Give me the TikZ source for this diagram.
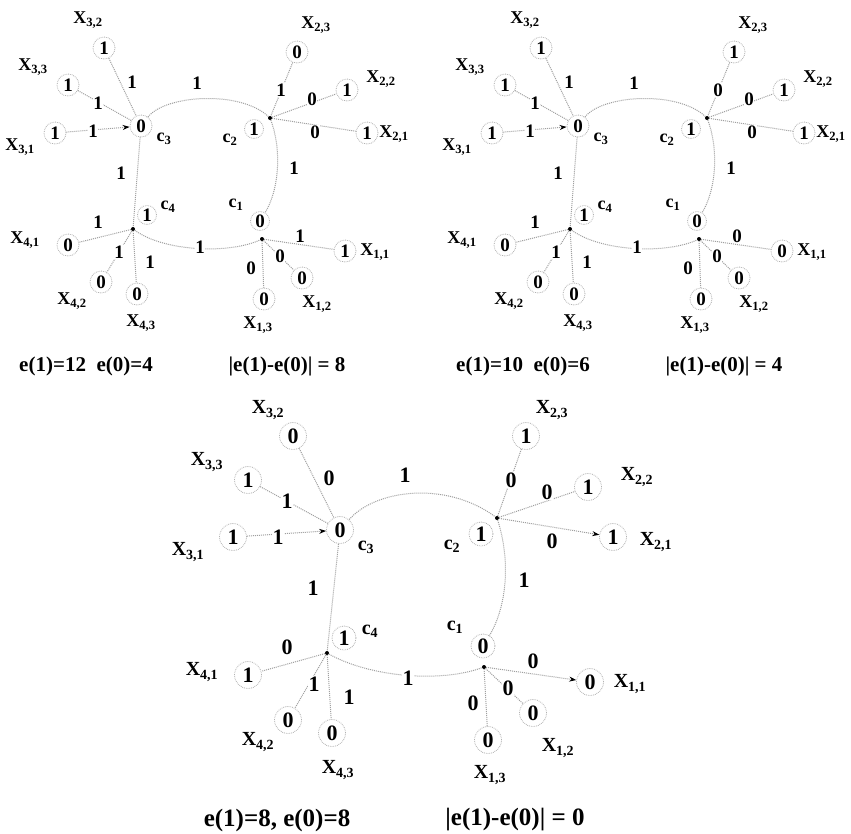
\documentclass[tikz,border=0pt]{standalone}
\usepackage{fontspec}
\setmainfont{Liberation Serif}
\usetikzlibrary{arrows.meta}
\newcommand\smallgraph[7]{%
  % centre nodes
  \node[sval] (#1c3) at (141,126) {0};
  \node[sxl] (#1c3l) at (164,139) {c\textsubscript{3}};
  \node[jn] (#1j4) at (133,229) {};
  \node[sval,minimum size=19pt] (#1c4) at (147,215) {1};
  \node[sxl] (#1c4l) at (168,207) {c\textsubscript{4}};
  \node[jn] (#1j2) at (270,118) {};
  \node[sval,minimum size=19pt] (#1c2) at (254,129) {1};
  \node[sxl] (#1c2l) at (230,140) {c\textsubscript{2}};
  \node[sval,minimum size=19pt] (#1c1) at (260,221) {0};
  \node[jn] (#1j1) at (262,239) {};
  \node[sxl] (#1c1l) at (236,205) {c\textsubscript{1}};
  % leaves
  \node[sval] (#1l32) at (104,48) {1};
  \node[sval] (#1l33) at (68,85) {1};
  \node[sval] (#1l31) at (55,133) {1};
  \node[sval] (#1l41) at (68,245) {0};
  \node[sval] (#1l42) at (101,282) {0};
  \node[sval] (#1l43) at (137,294) {0};
  \node[sval] (#1l23) at (297,52) {#2};
  \node[sval] (#1l22) at (347,90) {1};
  \node[sval] (#1l21) at (367,133) {1};
  \node[sval] (#1l11) at (345,251) {#4};
  \node[sval] (#1l12) at (302,278) {0};
  \node[sval] (#1l13) at (264,299) {0};
  % leaf names
  \node[sxl] (#1x32) at (88,20) {X\textsubscript{3,2}};
  \node[sxl] (#1x33) at (33,67) {X\textsubscript{3,3}};
  \node[sxl] (#1x31) at (20,147) {X\textsubscript{3,1}};
  \node[sxl] (#1x41) at (25,240) {X\textsubscript{4,1}};
  \node[sxl] (#1x42) at (72,301) {X\textsubscript{4,2}};
  \node[sxl] (#1x43) at (141,323) {X\textsubscript{4,3}};
  \node[sxl] (#1x23) at (316,25) {X\textsubscript{2,3}};
  \node[sxl] (#1x22) at (381,79) {X\textsubscript{2,2}};
  \node[sxl] (#1x21) at (394,134) {X\textsubscript{2,1}};
  \node[sxl] (#1x11) at (375,252) {X\textsubscript{1,1}};
  \node[sxl] (#1x12) at (317,304) {X\textsubscript{1,2}};
  \node[sxl] (#1x13) at (258,325) {X\textsubscript{1,3}};
  % connectors
  \draw[lnk] (#1l32) -- (#1c3);
  \draw[lnk] (#1l33) -- (#1c3);
  \draw[arr] (#1l31) -- (#1c3);
  \draw[lnk] (#1c3) -- (#1j4);
  \draw[lnk] (#1j4) -- (#1l41);
  \draw[lnk] (#1j4) -- (#1l42);
  \draw[lnk] (#1j4) -- (#1l43);
  \draw[lnk] (#1c3) .. controls (165,95) and (240,90) .. (#1j2);
  \draw[lnk] (#1j4) .. controls (165,252) and (230,254) .. (#1j1);
  \draw[lnk] (#1l23) -- (#1j2);
  \draw[lnk] (#1j2) -- (#1l22);
  \draw[lnk] (#1j2) -- (#1l21);
  \draw[lnk] (#1j2) .. controls (282,150) and (279,190) .. (#1c1);
  \draw[lnk] (#1j1) -- (#1l11);
  \draw[lnk] (#1j1) -- (#1l12);
  \draw[lnk] (#1j1) -- (#1l13);
  % connector labels
  \node[selab] (#1e32) at (132,82) {1};
  \node[selab] (#1e33) at (98,103) {1};
  \node[selab] (#1e31) at (93,131) {1};
  \node[selab] (#1ec32) at (197,83) {1};
  \node[selab] (#1e34) at (121,173) {1};
  \node[selab] (#1e41) at (98,222) {1};
  \node[selab] (#1e42) at (119,252) {1};
  \node[selab] (#1e43) at (150,262) {1};
  \node[selab] (#1ec41) at (200,247) {1};
  \node[selab] (#1e23) at (281,90) {#3};
  \node[selab] (#1e22) at (312,99) {0};
  \node[selab] (#1e21) at (315,132) {0};
  \node[selab] (#1ec21) at (294,168) {1};
  \node[selab] (#1e11) at (300,236) {#5};
  \node[selab] (#1e12) at (280,256) {0};
  \node[selab] (#1e13) at (251,268) {0};
  % captions
  \node[scaptxt] (#1capl) at (86,366) {#6};
  \node[scaptxt] (#1capr) at (287,366) {#7};
}
\begin{document}
\begin{tikzpicture}[x=1pt,y=-1pt,
  val/.style={circle,draw=gray!60,densely dotted,line width=0.8pt,minimum size=27pt,inner sep=0pt,font=\bfseries\fontsize{22}{22}\selectfont},
  sval/.style={val,minimum size=22pt,font=\bfseries\fontsize{19}{19}\selectfont},
  elab/.style={font=\bfseries\fontsize{22}{22}\selectfont,inner sep=0.5pt,fill=white},
  selab/.style={elab,font=\bfseries\fontsize{19}{19}\selectfont},
  xl/.style={font=\bfseries\fontsize{20}{20}\selectfont,inner sep=0pt},
  sxl/.style={font=\bfseries\fontsize{18}{18}\selectfont,inner sep=0pt},
  lnk/.style={draw=gray!75,densely dotted,line width=1pt},
  arr/.style={lnk,-{Stealth[length=7pt,width=5pt,black]}},
  jn/.style={circle,fill=black,inner sep=0pt,minimum size=4pt},
  captxt/.style={font=\bfseries\fontsize{25}{25}\selectfont},
  scaptxt/.style={font=\bfseries\fontsize{21}{21}\selectfont}]
\useasboundingbox[fill=white] (0,0) rectangle (851,833);

% ---- top graphs ----
\smallgraph{a}{0}{1}{1}{1}{e(1)=12\ \ e(0)=4}{|e(1)-e(0)| = 8}
\begin{scope}[xshift=437pt]
\smallgraph{b}{1}{0}{0}{0}{e(1)=10\ \ e(0)=6}{|e(1)-e(0)| = 4}
\end{scope}

% ---- bottom graph ----
\node[val] (c3) at (340,530) {0};
\node[xl] (c3l) at (366,547) {c\textsubscript{3}};
\node[jn] (j2) at (497,518) {};
\node[val,minimum size=24pt] (c2) at (481,534) {1};
\node[xl] (c2l) at (452,546) {c\textsubscript{2}};
\node[val,minimum size=24pt] (c1) at (483,646) {0};
\node[jn] (j1) at (484,667) {};
\node[xl] (c1l) at (455,627) {c\textsubscript{1}};
\node[jn] (j4) at (327,653) {};
\node[val,minimum size=24pt] (c4) at (344,638) {1};
\node[xl] (c4l) at (370,631) {c\textsubscript{4}};

\node[val] (l31) at (233,537) {1};
\node[val] (l33) at (248,480) {1};
\node[val] (l32) at (293,436) {0};
\node[val] (l23) at (526,436) {1};
\node[val] (l22) at (588,487) {1};
\node[val] (l21) at (613,537) {1};
\node[val] (l41) at (248,675) {1};
\node[val] (l42) at (288,720) {0};
\node[val] (l43) at (332,733) {0};
\node[val] (l11) at (590,682) {0};
\node[val] (l12) at (533,713) {0};
\node[val] (l13) at (488,740) {0};

\node[xl] (x31) at (188,552) {X\textsubscript{3,1}};
\node[xl] (x33) at (207,462) {X\textsubscript{3,3}};
\node[xl] (x32) at (268,410) {X\textsubscript{3,2}};
\node[xl] (x23) at (552,410) {X\textsubscript{2,3}};
\node[xl] (x22) at (637,477) {X\textsubscript{2,2}};
\node[xl] (x21) at (656,542) {X\textsubscript{2,1}};
\node[xl] (x41) at (202,672) {X\textsubscript{4,1}};
\node[xl] (x42) at (258,742) {X\textsubscript{4,2}};
\node[xl] (x43) at (338,770) {X\textsubscript{4,3}};
\node[xl] (x11) at (630,684) {X\textsubscript{1,1}};
\node[xl] (x12) at (558,748) {X\textsubscript{1,2}};
\node[xl] (x13) at (490,775) {X\textsubscript{1,3}};

\draw[arr] (l31) -- (c3);
\draw[lnk] (l33) -- (c3);
\draw[lnk] (l32) -- (c3);
\draw[lnk] (c3) .. controls (375,490) and (445,480) .. (j2);
\draw[lnk] (c3) -- (j4);
\draw[lnk] (l23) -- (j2);
\draw[lnk] (j2) -- (l22);
\draw[arr] (j2) -- (l21);
\draw[lnk] (j2) .. controls (512,565) and (505,610) .. (c1);
\draw[lnk] (j4) -- (l41);
\draw[lnk] (j4) -- (l42);
\draw[lnk] (j4) -- (l43);
\draw[lnk] (j4) .. controls (370,677) and (440,683) .. (j1);
\draw[arr] (j1) -- (l11);
\draw[lnk] (j1) -- (l12);
\draw[lnk] (j1) -- (l13);

\node[elab] (e31) at (278,537) {1};
\node[elab] (e33) at (287,501) {1};
\node[elab] (e32) at (329,478) {0};
\node[elab] (ec32) at (405,475) {1};
\node[elab] (e34) at (313,588) {1};
\node[elab] (e23) at (511,480) {0};
\node[elab] (e22) at (547,492) {0};
\node[elab] (e21) at (552,541) {0};
\node[elab] (ec21) at (524,580) {1};
\node[elab] (e41) at (287,647) {0};
\node[elab] (e42) at (314,684) {1};
\node[elab] (e43) at (349,697) {1};
\node[elab] (ec41) at (408,678) {1};
\node[elab] (e11) at (533,661) {0};
\node[elab] (e12) at (508,688) {0};
\node[elab] (e13) at (473,703) {0};

\node[captxt] (capl) at (277,820) {e(1)=8, e(0)=8};
\node[captxt] (capr) at (515,820) {|e(1)-e(0)| = 0};
\end{tikzpicture}
\end{document}
